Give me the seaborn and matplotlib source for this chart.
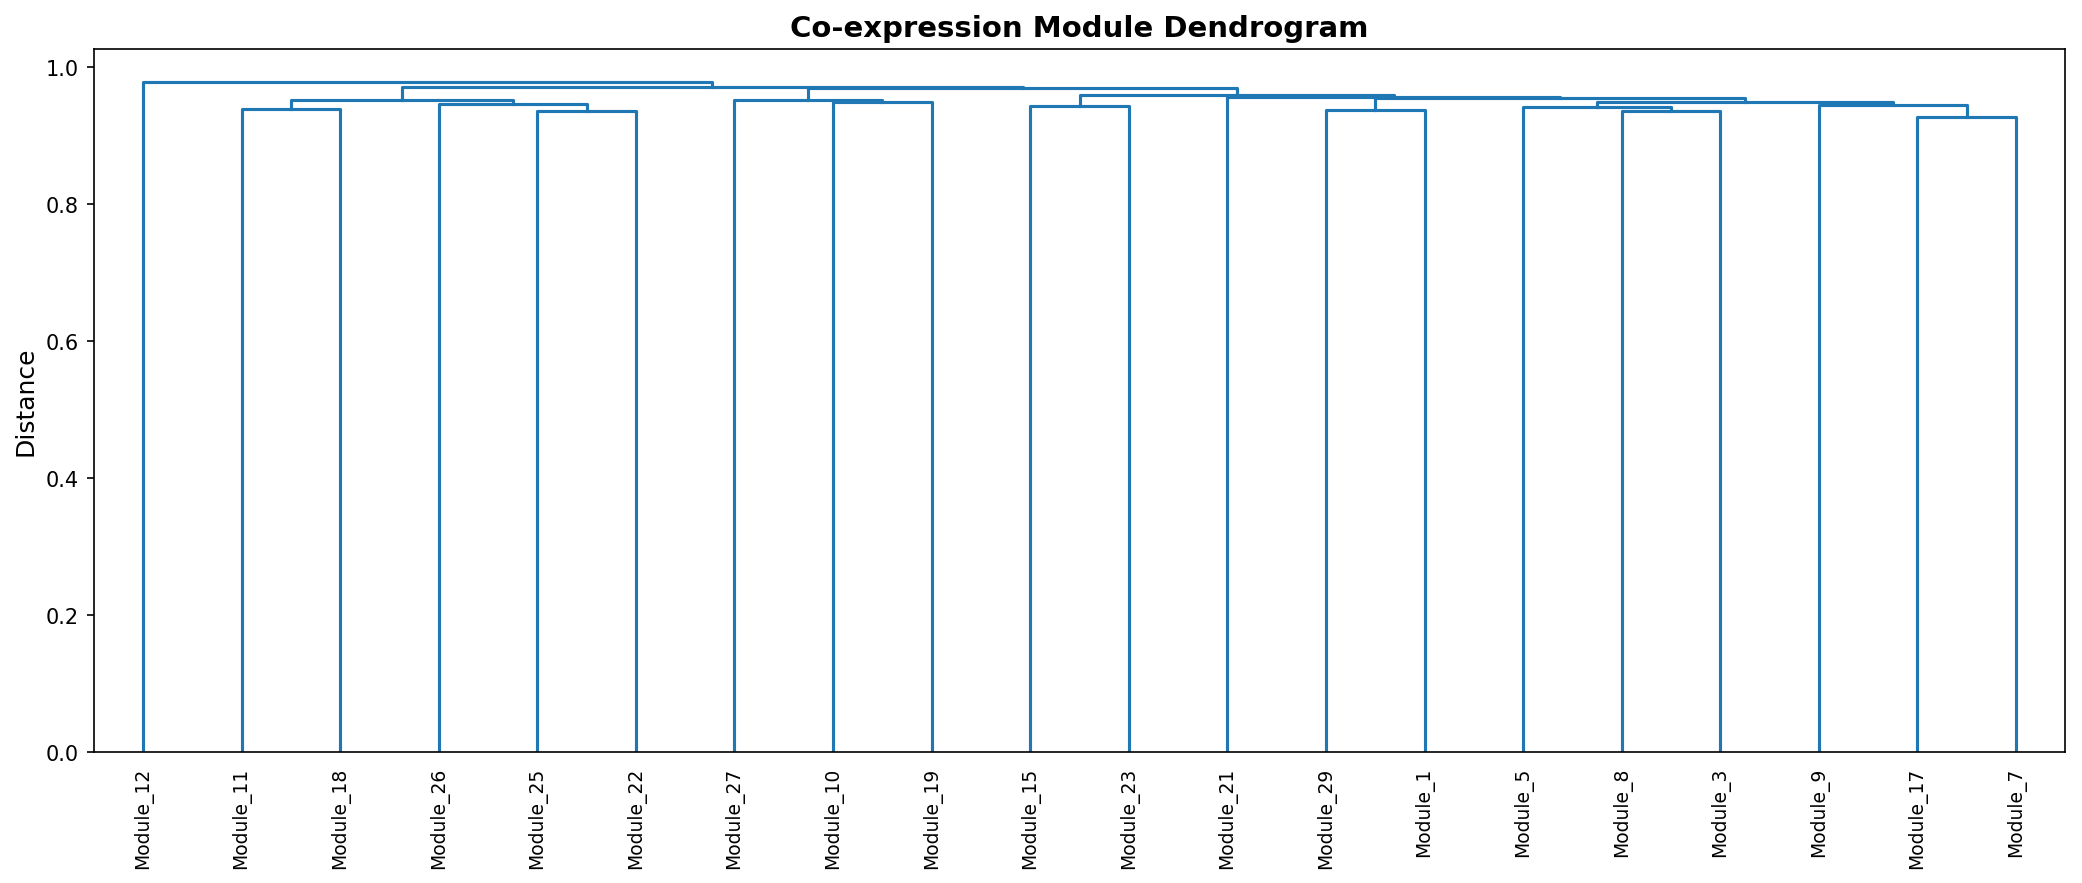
import numpy as np
import pandas as pd
import matplotlib
matplotlib.use("Agg")
import matplotlib.pyplot as plt
import seaborn as sns

# leaves in dendrogram order
leaf_labels = ["Module_12", "Module_11", "Module_18", "Module_26", "Module_25",
               "Module_22", "Module_27", "Module_10", "Module_19", "Module_15",
               "Module_23", "Module_21", "Module_29", "Module_1", "Module_5",
               "Module_8", "Module_3", "Module_9", "Module_17", "Module_7"]

# linkage-like merges: node id = n_leaves + row index
merge_left = [18, 15, 4, 1, 12, 14, 9, 17, 3, 7, 25, 6, 23, 24, 11, 26, 31, 32, 0]
merge_right = [19, 16, 5, 2, 13, 21, 10, 20, 22, 8, 27, 29, 28, 30, 33, 34, 35, 36, 37]
merge_height = [0.927, 0.937, 0.937, 0.939, 0.938, 0.942, 0.944, 0.945, 0.946, 0.950,
                0.950, 0.952, 0.953, 0.955, 0.957, 0.960, 0.970, 0.972, 0.978]

n = len(leaf_labels)

# node positions, leaves at 5, 15, 25 ... like scipy
node_x = {i: 5 + 10 * i for i in range(n)}
node_y = {i: 0.0 for i in range(n)}

rows = []
for k, (a, b, h) in enumerate(zip(merge_left, merge_right, merge_height)):
    xs = [node_x[a], node_x[a], node_x[b], node_x[b]]
    ys = [node_y[a], h, h, node_y[b]]
    for order, (x, y) in enumerate(zip(xs, ys)):
        rows.append({"link": k, "order": order, "x": x, "y": y})
    node_x[n + k] = (node_x[a] + node_x[b]) / 2
    node_y[n + k] = h

df_links = pd.DataFrame(rows)

fig, ax = plt.subplots(figsize=(13.88, 5.89), dpi=150)
sns.lineplot(data=df_links, x="x", y="y", units="link", estimator=None,
             sort=False, color="#1f77b4", linewidth=1.5, ax=ax)

ax.set_xlim(0, 10 * n)
ax.set_ylim(0, max(merge_height) * 1.05)
ax.set_xticks([5 + 10 * i for i in range(n)])
ax.set_xticklabels(leaf_labels, rotation=90, fontsize=9)
# hide x tick marks (keep label offset), like scipy's dendrogram
for line in ax.get_xticklines():
    line.set_visible(False)
ax.set_yticks(np.arange(0, 1.01, 0.2))
ax.tick_params(axis="y", labelsize=10)
ax.set_xlabel("")
ax.set_ylabel("Distance", fontsize=12)
ax.set_title("Co-expression Module Dendrogram", fontsize=14, fontweight="bold")

plt.subplots_adjust(left=0.045, right=0.992, top=0.944, bottom=0.148)
plt.savefig("out.png", dpi=150)
